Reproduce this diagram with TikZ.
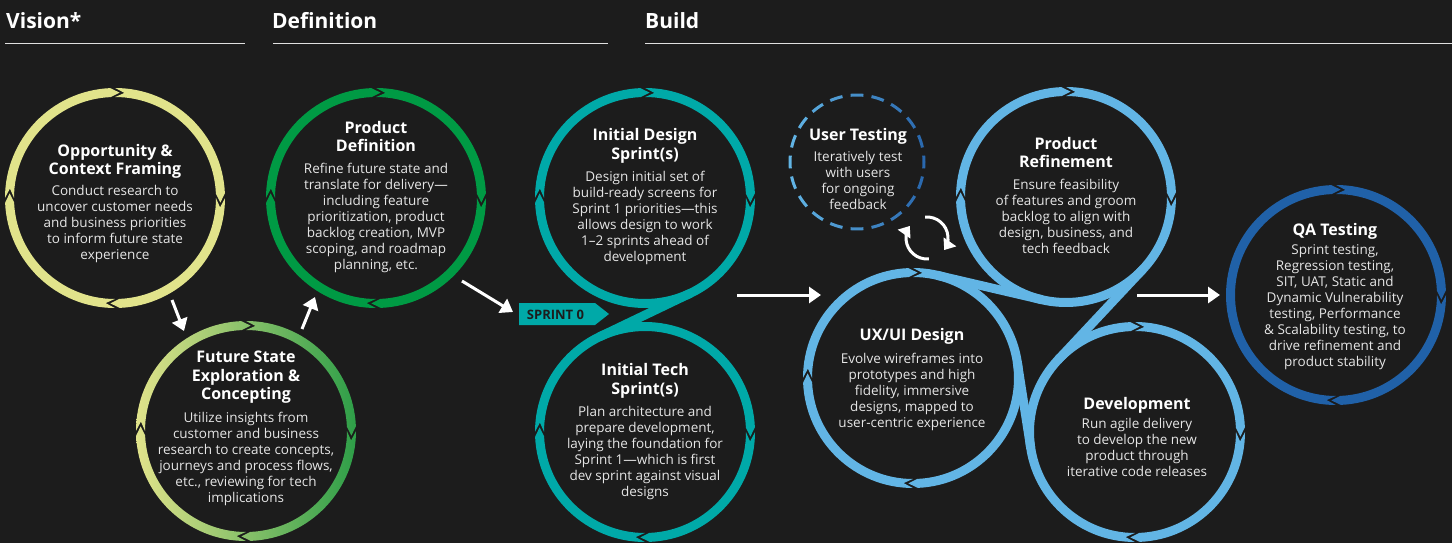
\documentclass[tikz,border=0pt]{standalone}
\usepackage{fontspec}
\setmainfont{Open Sans}
\usetikzlibrary{arrows.meta}
\definecolor{bg}{HTML}{1C1C1C}
\definecolor{oppc}{HTML}{E1E38B}
\definecolor{futL}{HTML}{E1E38B}
\definecolor{futR}{HTML}{2E9E48}
\definecolor{pdc}{HTML}{009A44}
\definecolor{tealc}{HTML}{00A9A8}
\definecolor{bluec}{HTML}{62B5E5}
\definecolor{qac}{HTML}{2061A8}
\definecolor{utL}{HTML}{62B5E5}
\definecolor{utD}{HTML}{2A68AE}
\definecolor{bodytxt}{HTML}{E6E6E6}
\def\Ro{110pt}\def\Ri{101pt}\def\Rm{105.5pt}\def\dl{5}\def\gp{2.6}
% one ring segment (clockwise from #2 to #3) around centre #1, pointed end, notched start
\newcommand{\segp}[3]{([shift={(#1)}]{#2+\dl/2-\gp}:\Ro) arc[start angle={#2+\dl/2-\gp}, end angle={#3+\dl/2}, radius=\Ro] -- ([shift={(#1)}]{#3-\dl/2}:\Rm) -- ([shift={(#1)}]{#3+\dl/2}:\Ri) arc[start angle={#3+\dl/2}, end angle={#2+\dl/2-\gp}, radius=\Ri] -- ([shift={(#1)}]{#2-\dl/2-\gp}:\Rm) -- cycle}
\tikzset{
  ttl/.style={font=\fontsize{16}{18.5}\selectfont\bfseries, text=white, align=center, anchor=north, inner sep=0pt},
  bdy/.style={font=\fontsize{13.5}{16}\selectfont, text=bodytxt, align=center, anchor=north, inner sep=0pt},
  hdg/.style={font=\fontsize{21}{24}\selectfont\bfseries, text=white, anchor=base west, inner sep=0pt},
  hline/.style={draw=white!88!black, line width=1.4pt},
  arr/.style={white, line width=3pt, -{Triangle[width=16pt,length=12pt]}},
  rarr/.style={white, line width=3pt, -{Triangle[width=15pt,length=10pt]}},
  joint/.style={line width=9pt},
}
\begin{document}
\begin{tikzpicture}[x=1pt,y=-1pt]
\useasboundingbox (0,0) rectangle (1452,543);
\fill[bg] (0,0) rectangle (1452,543);

% headings
\node[hdg] (hVision) at (6,28.3) {Vision*};
\node[hdg] (hDef) at (272,28.3) {Definition};
\node[hdg] (hBuild) at (645,28.3) {Build};
\draw[hline] (5,43.5) -- (245,43.5);
\draw[hline] (273,43.5) -- (608,43.5);
\draw[hline] (645,43.5) -- (1452,43.5);

% centres
\coordinate (cOpp) at (115,198);
\coordinate (cFut) at (246,431);
\coordinate (cPD) at (376,198);
\coordinate (cID) at (645,198);
\coordinate (cIT) at (645,432);
\coordinate (cUT) at (857,162);
\coordinate (cPR) at (1066,197);
\coordinate (cUX) at (913,378);
\coordinate (cDev) at (1135,432);
\coordinate (cQA) at (1336,295);
\coordinate (cRef) at (927,238);

% rings
\fill[oppc] \segp{cOpp}{90}{0} \segp{cOpp}{0}{-90} \segp{cOpp}{-90}{-180} \segp{cOpp}{-180}{-270};
\shade[left color=futL, right color=futR] \segp{cFut}{90}{0} \segp{cFut}{0}{-90} \segp{cFut}{-90}{-180} \segp{cFut}{-180}{-270};
\fill[pdc] \segp{cPD}{90}{0} \segp{cPD}{0}{-90} \segp{cPD}{-90}{-180} \segp{cPD}{-180}{-270};

\fill[tealc] \segp{cID}{90}{0} \segp{cID}{0}{-180} \segp{cID}{-180}{-270};
\fill[tealc] \segp{cIT}{0}{-90} \segp{cIT}{-90}{-180} \segp{cIT}{-180}{-360};
\draw[tealc, joint] ([shift={(cID)}]-64.4:\Rm) -- ([shift={(cIT)}]115.6:\Rm);

\fill[bluec] \segp{cUX}{90}{-90} \segp{cUX}{-90}{-180} \segp{cUX}{-180}{-270};
\fill[bluec] \segp{cPR}{90}{0} \segp{cPR}{0}{-180} \segp{cPR}{-180}{-270};
\fill[bluec] \segp{cDev}{90}{0} \segp{cDev}{0}{-90} \segp{cDev}{-90}{-270};
\draw[bluec, joint] ([shift={(cUX)}]76.9:\Rm) -- ([shift={(cPR)}]256.9:\Rm);
\draw[bluec, joint] ([shift={(cPR)}]-43:\Rm) -- ([shift={(cDev)}]137:\Rm);
\draw[bluec, joint] ([shift={(cUX)}]8.9:\Rm) -- ([shift={(cDev)}]188.9:\Rm);

\fill[qac] \segp{cQA}{90}{0} \segp{cQA}{0}{-90} \segp{cQA}{-90}{-270};

% user testing dashed ring
\foreach \k in {0,...,19} {
  \pgfmathsetmacro\ang{90+18*\k}
  \pgfmathsetmacro\mixv{50*(1+cos(\ang))}
  \draw[utD!\mixv!utL, line width=3pt] ([shift={(cUT)}]{\ang+5.5}:67pt) arc[start angle={\ang+5.5}, end angle={\ang-5.5}, radius=67pt];
}

% sprint 0 tag
\fill[tealc] (519,303) -- (595,303) -- (609,314) -- (595,325) -- (519,325) -- cycle;
\node[font=\fontsize{13}{14}\selectfont\bfseries, text=bg, anchor=base, inner sep=0pt] (sprint0) at (555.5,319) {SPRINT 0};

% texts
\node[ttl] (tOpp) at (115,143.7) {Opportunity \&\\Context Framing};
\node[bdy] (bOpp) at (115,185.1) {Conduct research to\\uncover customer needs\\and business priorities\\to inform future state\\experience};

\node[ttl] (tPD) at (376,121.1) {Product\\Definition};
\node[bdy] (bPD) at (376,162.8) {Refine future state and\\translate for delivery—\\including feature\\prioritization, product\\backlog creation, MVP\\scoping, and roadmap\\planning, etc.};

\node[ttl] (tFut) at (246,351.1) {Future State\\Exploration \&\\Concepting};
\node[bdy] (bFut) at (246,411.5) {Utilize insights from\\customer and business\\research to create concepts,\\journeys and process flows,\\etc., reviewing for tech\\implications};

\node[ttl] (tID) at (645,128.4) {Initial Design\\Sprint(s)};
\node[bdy] (bID) at (645,170.8) {Design initial set of\\build-ready screens for\\Sprint 1 priorities—this\\allows design to work\\1–2 sprints ahead of\\development};

\node[ttl] (tIT) at (645,363.4) {Initial Tech\\Sprint(s)};
\node[bdy] (bIT) at (645,405.8) {Plan architecture and\\prepare development,\\laying the foundation for\\Sprint 1—which is first\\dev sprint against visual\\designs};

\node[ttl] (tUT) at (858,127.7) {User Testing};
\node[bdy] (bUT) at (858,150.8) {Iteratively test\\with users\\for ongoing\\feedback};

\node[ttl] (tPR) at (1066,136.7) {Product\\Refinement};
\node[bdy] (bPR) at (1066,179.1) {Ensure feasibility\\of features and groom\\backlog to align with\\design, business, and\\tech feedback};

\node[ttl] (tUX) at (912,328.4) {UX/UI Design};
\node[bdy] (bUX) at (912,352.5) {Evolve wireframes into\\prototypes and high\\fidelity, immersive\\designs, mapped to\\user-centric experience};

\node[ttl] (tDev) at (1137,396.7) {Development};
\node[bdy] (bDev) at (1137,418.1) {Run agile delivery\\to develop the new\\product through\\iterative code releases};

\node[ttl] (tQA) at (1335,222.7) {QA Testing};
\node[bdy] (bQA) at (1335,244.1) {Sprint testing,\\Regression testing,\\SIT, UAT, Static and\\Dynamic Vulnerability\\testing, Performance\\\& Scalability testing, to\\drive refinement and\\product stability};

% flow arrows
\coordinate (a1s) at (172,300); \coordinate (a1e) at (184,331);
\coordinate (a2s) at (302,329); \coordinate (a2e) at (315,297);
\coordinate (a3s) at (462,281); \coordinate (a3e) at (513,312);
\coordinate (a4s) at (737,295); \coordinate (a4e) at (821,295);
\coordinate (a5s) at (1137,295); \coordinate (a5e) at (1220,295);
\draw[arr] (a1s) -- (a1e);
\draw[arr] (a2s) -- (a2e);
\draw[arr] (a3s) -- (a3e);
\draw[arr] (a4s) -- (a4e);
\draw[arr] (a5s) -- (a5e);

% feedback loop arrows
\coordinate (r1s) at ([shift={(cRef)}]95:21pt);
\coordinate (r2s) at ([shift={(cRef)}]-85:21pt);
\draw[rarr] (r1s) arc[start angle=95, end angle=-35, radius=21pt];
\draw[rarr] (r2s) arc[start angle=-85, end angle=-215, radius=21pt];
\end{tikzpicture}
\end{document}
